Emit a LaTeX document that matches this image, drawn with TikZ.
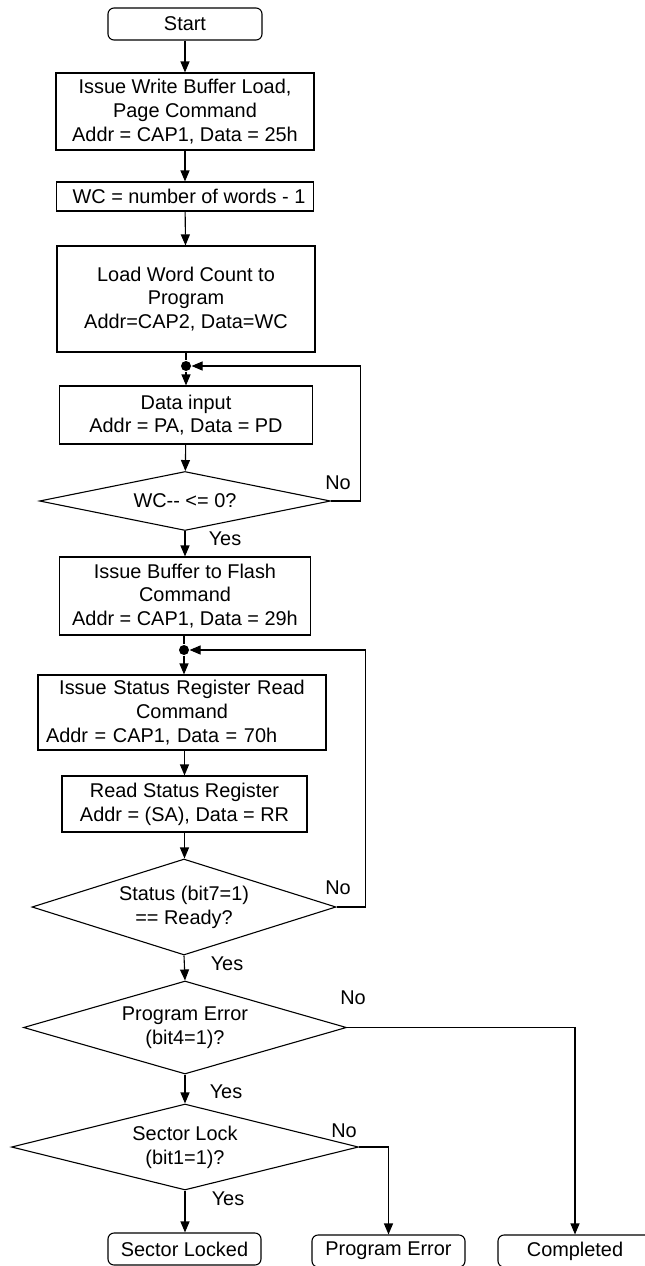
\documentclass[tikz,border=0pt]{standalone}
\usepackage{fontspec}
\setmainfont{Liberation Sans}
\usetikzlibrary{arrows.meta,shapes.geometric}
\tikzset{
  blk/.style={draw, line width=1.1pt, align=center, inner sep=0pt},
  term/.style={blk, rounded corners=6pt},
  dec/.style={draw, line width=1.1pt, diamond, align=center, inner sep=0pt},
  lbl/.style={inner sep=0pt},
  jdot/.style={circle, fill=black, inner sep=0pt, minimum size=10pt},
  arr/.style={-{Triangle[length=11pt,width=9pt]}}
}

\begin{document}
\begin{tikzpicture}[x=1pt, y=-1pt, line width=1.1pt, font=\fontsize{19.9}{23.8}\selectfont]
			%%%%% FRAME %%%%%
			\useasboundingbox (0,0) rectangle (645,1266);
			
			%%%%% BOXES %%%%%
			\node[term, minimum width=154, minimum height=32] (start) at (185,24) {Start};
			\node[blk, minimum width=258, minimum height=77] (wbload) at (185,111.5) {Issue Write Buffer Load,\\Page Command\\Addr = CAP1, Data = 25h};
			\node[blk, minimum width=257, minimum height=29] (wcset) at (185,196.5) {\hspace*{8pt}WC = number of words - 1};
			\node[blk, minimum width=258, minimum height=106] (wcload) at (186,299) {Load Word Count to\\Program\\Addr=CAP2, Data=WC};
			\node[jdot] (dot1) at (186,366) {};
			\node[blk, minimum width=253, minimum height=58] (datain) at (186,415) {Data input\\Addr = PA, Data = PD};
			\node[dec, aspect=4.93, minimum width=291, minimum height=59] (wcdec) at (185,501) {WC{-}{-} <= 0?};
			\node[blk, minimum width=251, minimum height=78] (bufcmd) at (185,596) {Issue Buffer to Flash\\Command\\Addr = CAP1, Data = 29h};
			\node[jdot] (dot2) at (184,650) {};
			\node[draw, line width=1.1pt, inner sep=0pt, text width=272, minimum width=288, minimum height=75] (srcmd) at (182,712.5)
			  {\noindent\centering Issue Status Register Read\\Command\par\raggedright\noindent Addr = CAP1, Data = 70h};
			\node[blk, minimum width=245, minimum height=56] (srread) at (184.5,804) {Read Status Register\\Addr = (SA), Data = RR};
			\node[dec, aspect=3.17, minimum width=304, minimum height=96] (rdydec) at (184,907) {Status (bit7=1)\\== Ready?};
			\node[dec, aspect=3.47, minimum width=323, minimum height=93] (errdec) at (185,1027.5) {Program Error\\(bit4=1)?};
			\node[dec, aspect=4.03, minimum width=347, minimum height=86] (lockdec) at (185,1147) {Sector Lock\\(bit1=1)?};
			\node[term, minimum width=153, minimum height=32] (locked) at (184.5,1249) {Sector Locked};
			\node[term, minimum width=153, minimum height=32] (progerr) at (388.5,1251) {Program Error};
			\node[term, minimum width=154, minimum height=32] (done) at (575,1251) {Completed};
			
			%%%%% LABELS %%%%%
			\node[lbl] (no1) at (338,483) {No};
			\node[lbl] (yes1) at (225,539) {Yes};
			\node[lbl] (no2) at (338,888) {No};
			\node[lbl] (yes2) at (227,964) {Yes};
			\node[lbl] (no3) at (353,998) {No};
			\node[lbl] (yes3) at (226,1092) {Yes};
			\node[lbl] (no4) at (344,1131) {No};
			\node[lbl] (yes4) at (228,1199) {Yes};
			
			%%%%% FLOW %%%%%
			\draw[arr] (start) -- (wbload);
			\draw[arr] (wbload) -- (wcset);
			\draw[arr] (wcset) -- (wcload);
			\draw (wcload) -- (dot1);
			\draw[arr] (dot1) -- (datain);
			\draw[arr] (datain) -- (wcdec);
			\draw[arr] (wcdec.east) -- ++(29,0) |- (dot1);
			\draw[arr] (wcdec) -- (bufcmd);
			\draw (bufcmd.south -| dot2) -- (dot2);
			\draw[arr] (dot2) -- (dot2 |- srcmd.north);
			\draw[arr] (srcmd.south -| srread) -- (srread);
			\draw[arr] (srread) -- (srread |- rdydec.north);
			\draw[arr] (rdydec.east) -- ++(29,0) |- (dot2);
			\draw[arr] (rdydec.south) -- (errdec.north);
			\draw[arr] (errdec.east) -| (done.north);
			\draw[arr] (errdec) -- (lockdec);
			\draw[arr] (lockdec.east) -| (progerr.north);
			\draw[arr] (lockdec.south) -- (lockdec.south |- locked.north);
			
		\end{tikzpicture}
\end{document}
